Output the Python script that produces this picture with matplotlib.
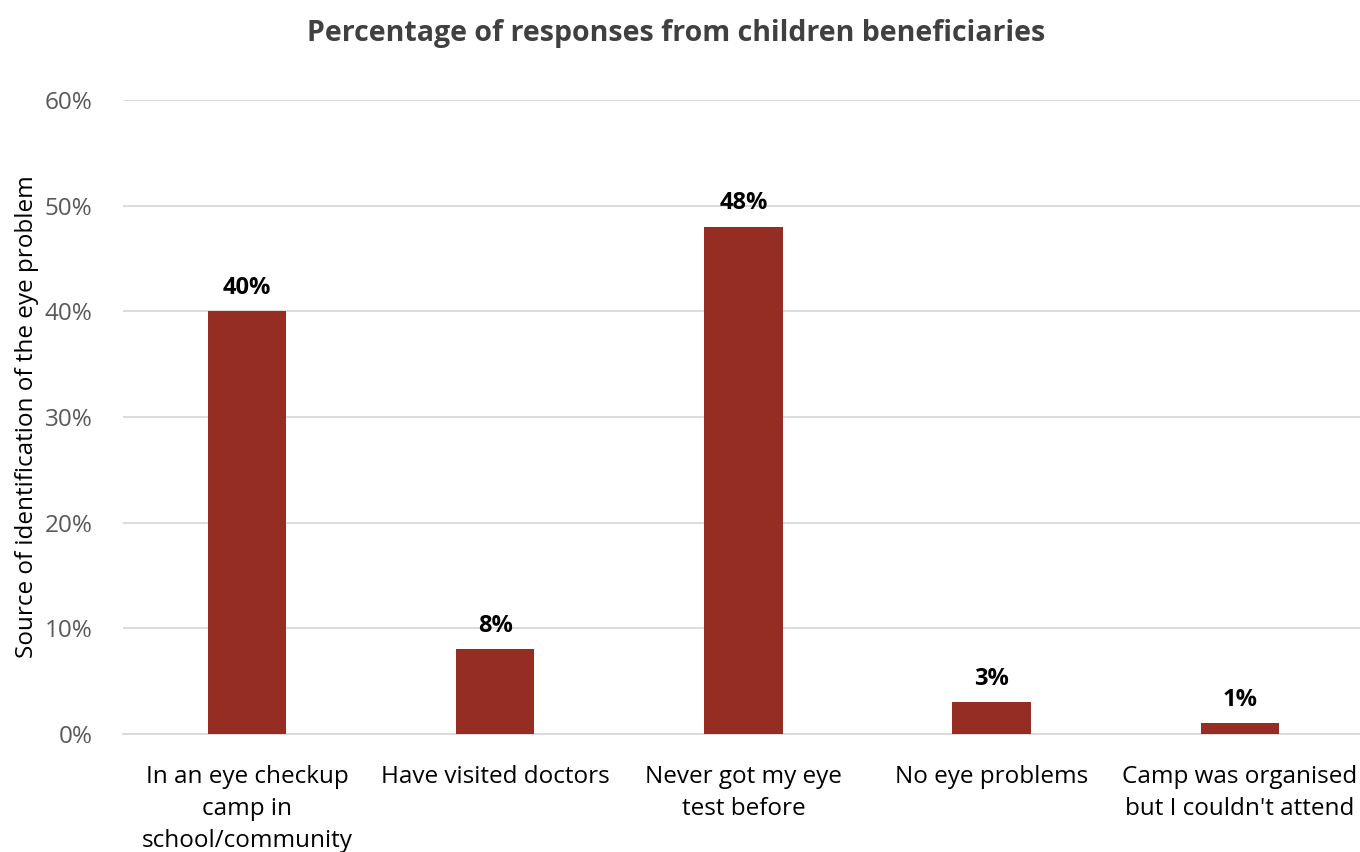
import numpy as np
import matplotlib.pyplot as plt
from matplotlib.ticker import PercentFormatter

plt.rcParams['font.family'] = ['Open Sans', 'DejaVu Sans']

categories = ['In an eye checkup\ncamp in\nschool/community',
              'Have visited doctors',
              'Never got my eye\ntest before',
              'No eye problems',
              "Camp was organised\nbut I couldn't attend"]
values = [40, 8, 48, 3, 1]
yticks = [0, 10, 20, 30, 40, 50, 60]

fig = plt.figure(figsize=(13.6, 8.52), dpi=100)
ax = fig.add_axes([0.0904, 0.1385, 0.9125, 0.7441])

x = np.arange(len(categories))
ax.bar(x, values, width=0.316, color='#962d22', zorder=3)

for xi, v in zip(x, values):
    ax.text(xi, v + 1.1, f'{v}%', ha='center', va='bottom',
            fontsize=17, fontweight='bold', color='black')

ax.set_xlim(-0.5, len(categories) - 0.5)
ax.set_ylim(0, 60)
ax.set_yticks(yticks)
ax.yaxis.set_major_formatter(PercentFormatter(decimals=0))
ax.set_xticks(x)
ax.set_xticklabels(categories, fontsize=17.5, color='black', linespacing=1.45)
ax.tick_params(axis='y', labelsize=17.5, labelcolor='#595959', length=0, pad=22)
ax.tick_params(axis='x', length=0, pad=22)
ax.yaxis.grid(True, color='#d9d9d9', linewidth=1.3, zorder=0)
for s in ['top', 'right', 'left']:
    ax.spines[s].set_visible(False)
ax.spines['bottom'].set_color('#d9d9d9')
ax.spines['bottom'].set_linewidth(1.3)

ax.set_ylabel('Source of identification of the eye problem', fontsize=17.5,
              color='black', labelpad=4)
fig.suptitle('Percentage of responses from children beneficiaries',
             fontsize=20.5, fontweight='bold', color='#404040', x=0.497, y=0.978)

plt.savefig('out.png', dpi=100)
